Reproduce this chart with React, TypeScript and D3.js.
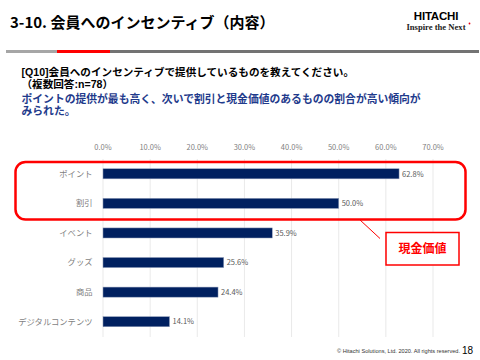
import React from "react";
import * as d3 from "d3";

const categories = ["ポイント", "割引", "イベント", "グッズ", "商品", "デジタルコンテンツ"];
const values = [62.8, 50.0, 35.9, 25.6, 24.4, 14.1];
const tickValues = [0, 10, 20, 30, 40, 50, 60, 70];

const W = 480;
const H = 360;
const JP = "'Noto Sans CJK JP', 'Noto Sans', sans-serif";
const MIX = "'Liberation Sans', 'Noto Sans CJK JP', sans-serif";

export default function App() {
  const x = d3.scaleLinear().domain([0, 70]).range([103, 433]);
  const y = d3.scaleBand<string>().domain(categories).range([159, 336.5]).paddingInner(0.66).paddingOuter(0.33);
  const bw = y.bandwidth();

  return (
    <svg width={W} height={H} style={{ position: "absolute", left: 0, top: 0, background: "#fff" }}>
      <rect x={0} y={0} width={W} height={H} fill="#fff" />
      {/* Header */}
      <text x={10} y={27.5} fontFamily={JP} fontSize={15} fontWeight="bold" fill="#000">3-10. 会員へのインセンティブ（内容）</text>
      <text x={436} y={19.5} textAnchor="middle" fontFamily="'Liberation Sans', Arial, sans-serif" fontSize={11.5} fontWeight="bold" fill="#000" letterSpacing={-0.2}>HITACHI</text>
      <text x={436} y={30} textAnchor="middle" fontFamily="'Liberation Serif', 'DejaVu Serif', serif" fontSize={8.6} fontWeight="bold" fill="#222">Inspire the Next</text>
      <circle cx={469.5} cy={23.5} r={0.9} fill="#e60012" />
      <rect x={6} y={50} width={51} height={3} fill="#a6a6a6" />
      <rect x={57} y={50} width={53} height={3} fill="#ff0000" />
      <rect x={110} y={50} width={369} height={3} fill="#737373" />

      {/* Question */}
      <text x={21.5} y={75.5} fontFamily={MIX} fontSize={10.6} fontWeight="bold" fill="#000">[Q10]会員へのインセンティブで提供しているものを教えてください。</text>
      <text x={21.5} y={87.5} fontFamily={MIX} fontSize={10.6} fontWeight="bold" fill="#000">（複数回答:n=78）</text>
      <text x={21.5} y={102.5} fontFamily={MIX} fontSize={10.8} fontWeight="bold" fill="#1f3b8c">ポイントの提供が最も高く、次いで割引と現金価値のあるものの割合が高い傾向が</text>
      <text x={21.5} y={114.5} fontFamily={MIX} fontSize={10.8} fontWeight="bold" fill="#1f3b8c">みられた。</text>

      {/* Grid and ticks */}
      {tickValues.map((t) => (
        <g key={t}>
          <line x1={x(t)} x2={x(t)} y1={159} y2={337} stroke="#e3e3e3" strokeWidth={0.8} />
          <text x={x(t)} y={150} textAnchor="middle" fontFamily={JP} fontSize={7.5} fill="#7f7f7f">{t.toFixed(1)}%</text>
        </g>
      ))}

      {/* Bars */}
      {categories.map((c, i) => (
        <g key={c}>
          <rect x={x(0)} y={y(c)!} width={x(values[i]) - x(0)} height={bw} fill="#002060" stroke="#8e9bb8" strokeWidth={0.5} />
          <text x={92.5} y={y(c)! + bw / 2} dy="0.35em" textAnchor="end" fontFamily={JP} fontSize={8.3} fill="#7f7f7f">{c}</text>
          <text x={x(values[i]) + 3} y={y(c)! + bw / 2} dy="0.37em" fontFamily={JP} fontSize={7.5} fill="#595959">{values[i].toFixed(1)}%</text>
        </g>
      ))}

      {/* Highlight */}
      <rect x={15.5} y={162} width={450} height={57.5} rx={10} ry={10} fill="none" stroke="#ff0000" strokeWidth={2.5} />
      <line x1={359.5} y1={219.5} x2={380} y2={238.5} stroke="#ff0000" strokeWidth={1} />
      <rect x={386} y={232.5} width={73} height={32.5} fill="#fff" stroke="#ff0000" strokeWidth={1.5} />
      <text x={422.5} y={249} dy="0.36em" textAnchor="middle" fontFamily={JP} fontSize={12} fontWeight="bold" fill="#ff0000">現金価値</text>

      {/* Footer */}
      <text x={460} y={353} textAnchor="end" fontFamily="'Liberation Sans', Arial, sans-serif" fontSize={5.6} fill="#333">© Hitachi Solutions, Ltd. 2020. All rights reserved.</text>
      <text x={473} y={354} textAnchor="end" fontFamily="'Liberation Sans', Arial, sans-serif" fontSize={10} fill="#000">18</text>
    </svg>
  );
}
